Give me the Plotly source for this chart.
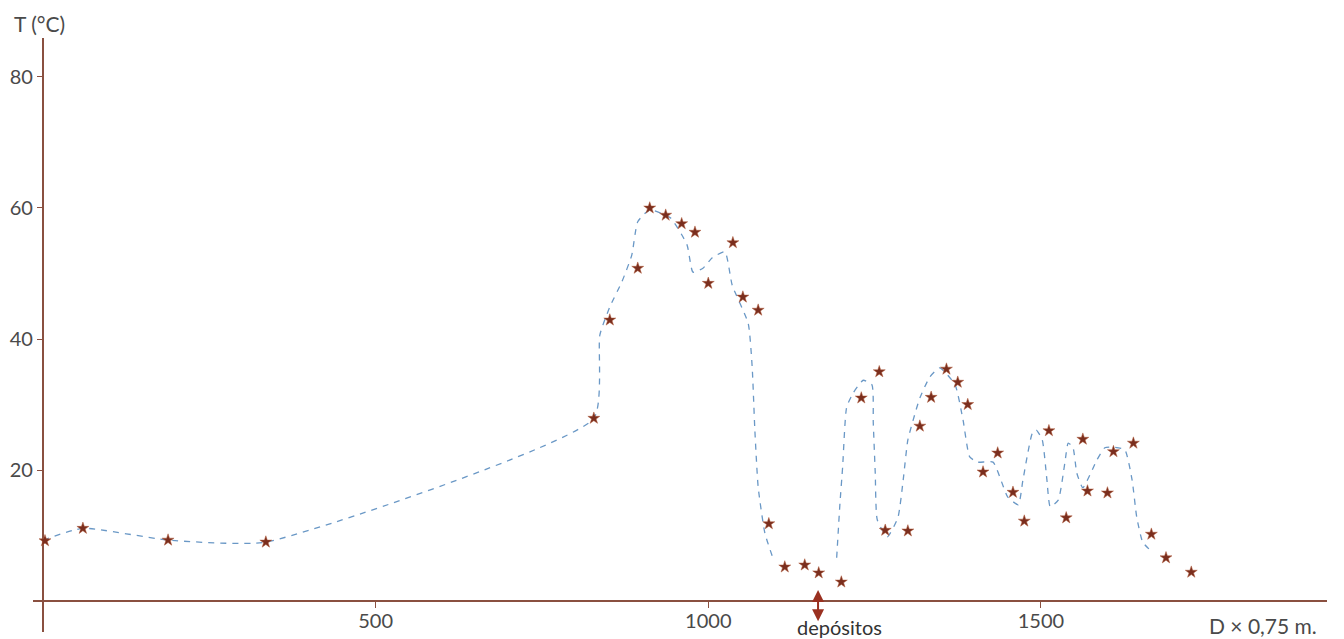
import plotly.graph_objects as go

# ---- data ----
star_x = [3, 60, 188, 335, 828, 852, 894, 912, 936, 960, 980, 1000, 1037, 1052, 1075,
          1091, 1115, 1145, 1166, 1200, 1230, 1257, 1266, 1300, 1318, 1335, 1358, 1375,
          1390, 1413, 1435, 1458, 1475, 1512, 1538, 1563, 1570, 1600, 1609, 1639, 1666,
          1688, 1726]
star_t = [9.2, 11.1, 9.3, 9.0, 27.9, 42.9, 50.8, 60.0, 58.9, 57.6, 56.3, 48.5, 54.7, 46.4,
          44.4, 11.8, 5.2, 5.5, 4.3, 2.9, 31.0, 35.0, 10.8, 10.7, 26.7, 31.1, 35.4, 33.4,
          30.0, 19.7, 22.6, 16.6, 12.2, 26.0, 12.7, 24.7, 16.8, 16.5, 22.8, 24.1, 10.2,
          6.6, 4.4]

# hand-drawn dashed curve (None = gap in the drawing)
curve_x = [0, 60, 188, 335, 828, 837, 852, 870, 885, 894, 912, 943, 968, 977, 992, 1006,
           1025, 1036, 1060, 1066, 1070, 1075, 1085, 1096, None,
           1193, 1198, 1202, 1208, 1218, 1233, 1246, 1248, 1251, 1254, 1269, 1285, 1293,
           1300, 1311, 1318, 1333, 1348, 1371, 1383, 1393, 1405, 1428, 1450, 1466, 1473,
           1487, 1493, 1502, 1509, 1514, 1526, 1536, 1541, 1548, 1554, 1563, 1584, 1596,
           1608, 1626, 1637, 1644, 1653, 1667]
curve_t = [9.3, 11.1, 9.3, 9.0, 27.9, 40.6, 44.9, 48.7, 52.8, 57.9, 59.7, 58.5, 54.4, 50.2,
           50.8, 52.4, 53.3, 48.2, 42.4, 35.7, 26.1, 17.4, 10.4, 6.9, None,
           6.6, 15.0, 20.5, 29.6, 31.8, 33.7, 33.0, 27.2, 19.5, 12.4, 9.8, 12.7, 18.5,
           24.6, 28.7, 31.0, 34.2, 35.6, 33.0, 27.6, 22.0, 21.2, 21.2, 15.9, 14.7, 18.5,
           25.6, 26.1, 24.6, 18.5, 14.4, 15.4, 21.1, 24.1, 23.5, 19.5, 17.3, 21.5, 23.4,
           23.5, 23.1, 18.5, 12.8, 9.0, 7.5]

x_ticks = [500, 1000, 1500]
y_ticks = [20, 40, 60, 80]
deposit_x = 1165

axis_col = "#8a5040"
text_col = "#4a4a4a"
FONT = "Lato"

fig = go.Figure()
fig.add_trace(go.Scatter(
    x=curve_x, y=curve_t, mode="lines", connectgaps=False,
    line=dict(color="#6a98c6", width=1.3, dash="6px,6px", shape="spline", smoothing=0.5),
    hoverinfo="skip", showlegend=False))
fig.add_trace(go.Scatter(
    x=star_x, y=star_t, mode="markers",
    marker=dict(symbol="star", size=9, color="#7a2e1e",
                line=dict(color="#b05a3a", width=0.5)),
    showlegend=False))

# double-headed arrow marking the deposits
fig.add_annotation(x=deposit_x, y=-3.1, ax=deposit_x, ay=1.9,
                   xref="x", yref="y", axref="x", ayref="y",
                   showarrow=True, arrowhead=2, arrowside="end+start",
                   arrowsize=1.2, arrowwidth=2, arrowcolor="#9a3020", text="")

fig.add_annotation(text="T (°C)", xref="paper", yref="paper", x=0.0054, y=1.0236,
                   xanchor="center", yanchor="middle", showarrow=False,
                   font=dict(family=FONT, size=21, color=text_col))
fig.add_annotation(text="D × 0,75 m.", xref="paper", yref="paper", x=0.9505, y=0.011,
                   xanchor="center", yanchor="middle", showarrow=False,
                   font=dict(family=FONT, size=21, color=text_col))
fig.add_annotation(text="depósitos", xref="paper", yref="paper", x=0.6236, y=0.008,
                   xanchor="center", yanchor="middle", showarrow=False,
                   font=dict(family=FONT, size=20, color="#333333"))

x_range = [-15.0, 1930.0]
y_range = [-4.73, 85.95]

# page has an 8px body margin: figure occupies page x 8..1344, y 8..639
fig.update_layout(
    width=1336, height=631,
    margin=dict(l=25, r=17, t=30, b=7, autoexpand=False),
    plot_bgcolor="white", paper_bgcolor="white",
    xaxis=dict(range=x_range, showgrid=False, zeroline=True, zerolinecolor=axis_col,
               zerolinewidth=1.6, showline=False, tickvals=x_ticks, automargin=False,
               ticktext=[str(v) for v in x_ticks], ticks="outside", ticklen=6,
               ticklabelstandoff=-4,
               tickcolor=axis_col, tickwidth=1.2, anchor="free",
               position=(0 - y_range[0]) / (y_range[1] - y_range[0]),
               tickfont=dict(family=FONT, size=20, color=text_col)),
    yaxis=dict(range=y_range, showgrid=False, zeroline=True, zerolinecolor=axis_col,
               zerolinewidth=1.6, showline=False, tickvals=y_ticks, automargin=False,
               ticktext=[str(v) for v in y_ticks], ticks="outside", ticklen=6,
               tickcolor=axis_col, tickwidth=1.2, anchor="free",
               position=(0 - x_range[0]) / (x_range[1] - x_range[0]),
               tickfont=dict(family=FONT, size=20, color=text_col)),
)

fig.write_html("out.html")
